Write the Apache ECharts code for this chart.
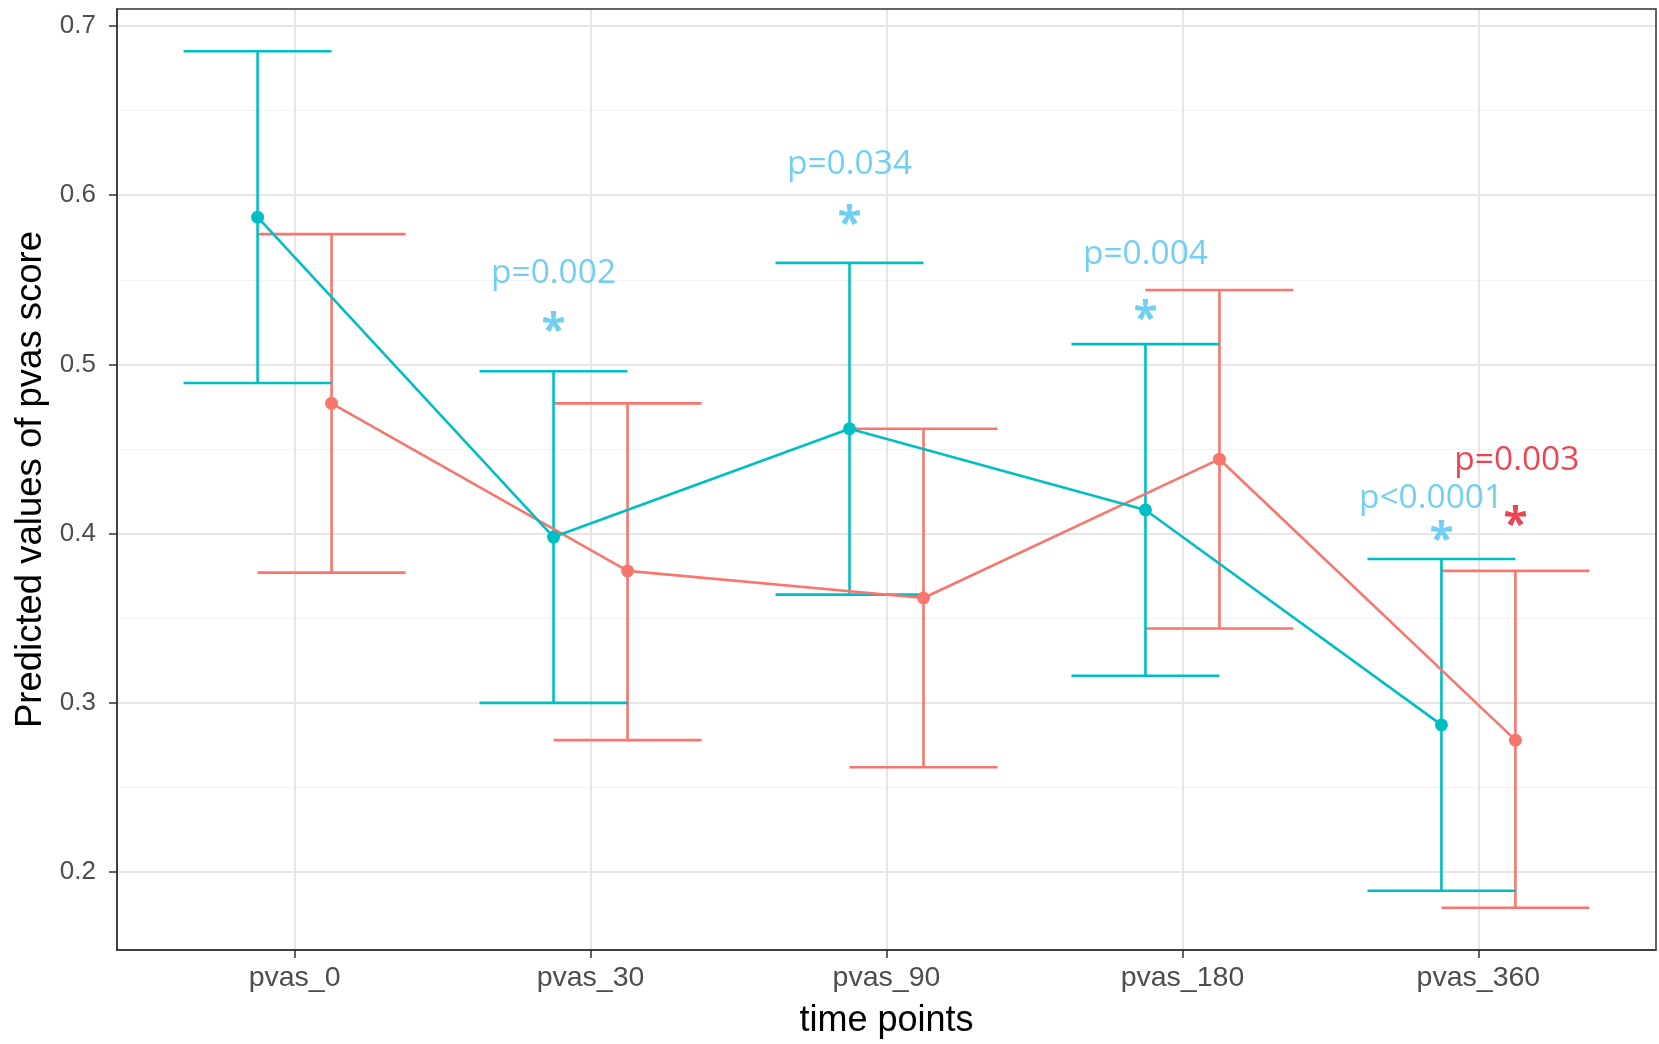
<!DOCTYPE html>
<html>
<head>
<meta charset="utf-8">
<title>Predicted values of pvas score</title>
<script src="https://cdn.jsdelivr.net/npm/echarts@6/dist/echarts.min.js"></script>
<style>
  html, body { margin: 0; padding: 0; background: #fff; }
  #chart { width: 1659px; height: 1044px; }
</style>
</head>
<body>
<div id="chart"></div>
<script>
// time points
var categories = ['pvas_0', 'pvas_30', 'pvas_90', 'pvas_180', 'pvas_360']

// group 1 (teal)
var tealMean = [0.587, 0.398, 0.462, 0.414, 0.287]
var tealLower = [0.489, 0.300, 0.364, 0.316, 0.189]
var tealUpper = [0.685, 0.496, 0.560, 0.512, 0.385]

// group 2 (red)
var redMean = [0.477, 0.378, 0.362, 0.444, 0.278]
var redLower = [0.377, 0.278, 0.262, 0.344, 0.179]
var redUpper = [0.577, 0.477, 0.462, 0.544, 0.378]

// y axis ticks
var yTicks = [0.2, 0.3, 0.4, 0.5, 0.6, 0.7]
var yMinorTicks = [0.25, 0.35, 0.45, 0.55, 0.65]

// p-value annotations (x in category units, y in score units)
var pText = ['p=0.002', 'p=0.034', 'p=0.004', 'p<0.0001', 'p=0.003']
var pX = [0.875, 1.875, 2.875, 3.84, 4.13]
var pY = [0.554, 0.618, 0.565, 0.421, 0.443]
var pGroup = ['teal', 'teal', 'teal', 'teal', 'red']
var starX = [0.875, 1.875, 2.875, 3.875, 4.125]
var starY = [0.525, 0.588, 0.532, 0.401, 0.41]
var starGroup = ['teal', 'teal', 'teal', 'teal', 'red']

var TEAL = '#00BFC4'
var RED = '#F8766D'
var NOTE_BLUE = '#4EC4EE'
var NOTE_RED = '#E3172A'
var DODGE = 0.125
var CAP = 0.25

function points(means, shift) {
  return means.map(function (v, i) {
    return [i + shift, v]
  })
}

function bars(lower, upper, shift) {
  return lower.map(function (lo, i) {
    return [i + shift, lo, upper[i]]
  })
}

function errorBarSeries(lower, upper, shift, color) {
  return {
    type: 'custom',
    data: bars(lower, upper, shift),
    encode: { x: 0, y: [1, 2] },
    z: 2,
    silent: true,
    renderItem: function (params, api) {
      var x = api.value(0)
      var lo = api.coord([x, api.value(1)])
      var hi = api.coord([x, api.value(2)])
      var half = api.size([CAP, 0])[0]
      var style = { stroke: color, lineWidth: 2.6 }
      return {
        type: 'group',
        children: [
          { type: 'line', shape: { x1: lo[0], y1: lo[1], x2: hi[0], y2: hi[1] }, style: style },
          { type: 'line', shape: { x1: hi[0] - half, y1: hi[1], x2: hi[0] + half, y2: hi[1] }, style: style },
          { type: 'line', shape: { x1: lo[0] - half, y1: lo[1], x2: lo[0] + half, y2: lo[1] }, style: style },
        ],
      }
    },
  }
}

function lineSeries(means, shift, color) {
  return {
    type: 'line',
    data: points(means, shift),
    z: 3,
    symbol: 'circle',
    symbolSize: 13,
    showSymbol: true,
    silent: true,
    itemStyle: { color: color },
    lineStyle: { color: color, width: 2.6 },
  }
}

function noteSeries(xs, ys, texts, groups, fontSize, extra) {
  return {
    type: 'scatter',
    symbolSize: 0,
    z: 5,
    silent: true,
    data: xs.map(function (x, i) {
      return {
        value: [x, ys[i]],
        name: texts[i],
        label: { color: groups[i] === 'red' ? NOTE_RED : NOTE_BLUE },
      }
    }),
    label: Object.assign({
      show: true,
      position: 'inside',
      fontFamily: 'Open Sans',
      fontSize: fontSize,
      formatter: function (p) { return p.name },
    }, extra),
  }
}

var chart = echarts.init(document.getElementById('chart'))
chart.setOption({
  animation: false,
  backgroundColor: '#fff',
  grid: {
    left: 117,
    right: 3,
    top: 9,
    bottom: 92,
    show: true,
    borderColor: '#333',
    borderWidth: 1.5,
    z: 10,
  },
  xAxis: {
    type: 'value',
    min: -0.6,
    max: 4.6,
    name: 'time points',
    nameLocation: 'middle',
    nameGap: 53,
    nameTextStyle: { fontFamily: 'Liberation Sans', fontSize: 36, color: '#000' },
    axisLine: { show: true, onZero: false, lineStyle: { color: '#333', width: 1.5 } },
    axisTick: { show: true, length: 8, customValues: [0, 1, 2, 3, 4], lineStyle: { color: '#333', width: 1.5 } },
    axisLabel: {
      customValues: [0, 1, 2, 3, 4],
      margin: 14,
      fontFamily: 'Liberation Sans',
      fontSize: 28.5,
      color: '#4D4D4D',
      formatter: function (v) { return categories[Math.round(v)] },
    },
    splitLine: { show: true, lineStyle: { color: '#E6E6E6', width: 2 } },
  },
  yAxis: [
    {
      type: 'value',
      min: 0.154,
      max: 0.71,
      name: 'Predicted values of pvas score',
      nameLocation: 'middle',
      nameGap: 68,
      nameTextStyle: { fontFamily: 'Liberation Sans', fontSize: 36.5, color: '#000' },
      axisLine: { show: true, onZero: false, lineStyle: { color: '#333', width: 1.5 } },
      axisTick: { show: true, length: 8, customValues: yTicks, lineStyle: { color: '#333', width: 1.5 } },
      axisLabel: {
        customValues: yTicks,
        margin: 21,
        fontFamily: 'Liberation Sans',
        fontSize: 26,
        color: '#4D4D4D',
        formatter: function (v) { return v.toFixed(1) },
      },
      splitLine: { show: true, lineStyle: { color: '#E6E6E6', width: 2 } },
    },
    {
      type: 'value',
      min: 0.154,
      max: 0.71,
      position: 'left',
      axisLine: { show: false, onZero: false },
      axisTick: { show: false, customValues: yMinorTicks },
      axisLabel: { show: false, customValues: yMinorTicks },
      splitLine: { show: true, lineStyle: { color: '#F2F2F2', width: 1 } },
    },
  ],
  series: [
    errorBarSeries(redLower, redUpper, DODGE, RED),
    errorBarSeries(tealLower, tealUpper, -DODGE, TEAL),
    lineSeries(redMean, DODGE, RED),
    lineSeries(tealMean, -DODGE, TEAL),
    noteSeries(pX, pY, pText, pGroup, 33.5, {}),
    noteSeries(starX, starY, starX.map(function () { return '*' }), starGroup, 44, { offset: [0, 10], fontWeight: 'bold' }),
  ],
})
</script>
</body>
</html>
